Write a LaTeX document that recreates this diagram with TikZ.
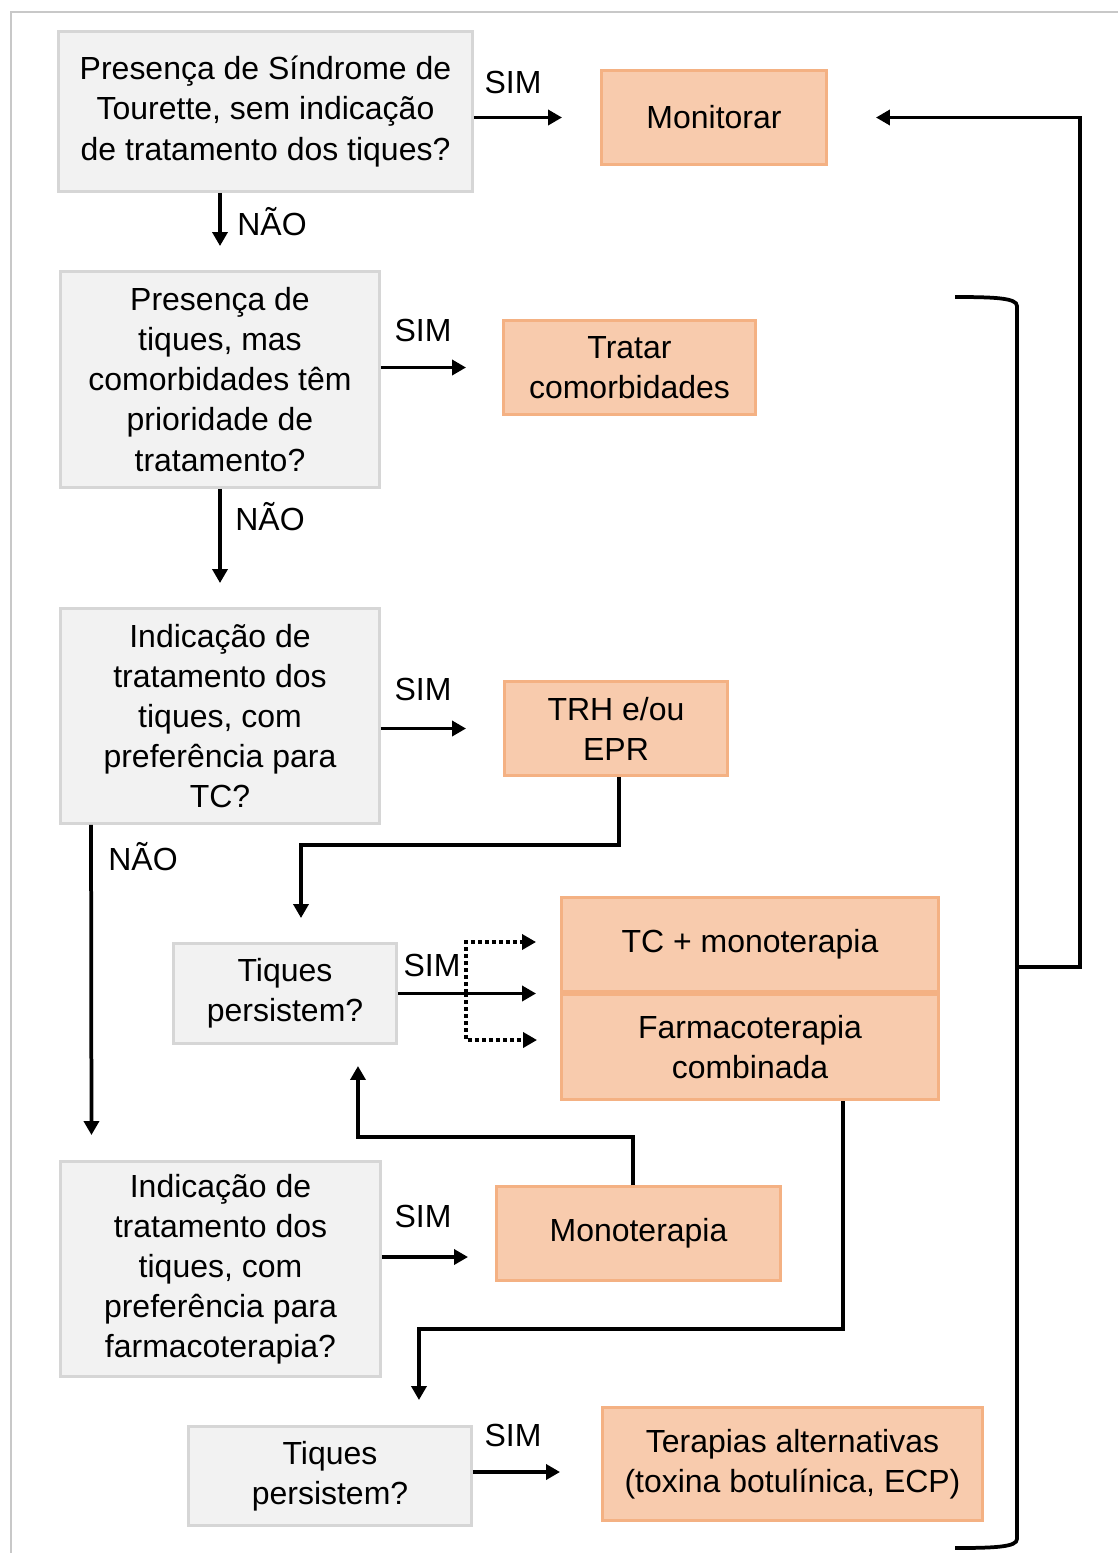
\documentclass[tikz,border=0pt]{standalone}
\usepackage{fontspec}
\setmainfont{Liberation Sans}
\usetikzlibrary{arrows.meta,positioning,calc}
\definecolor{qfill}{HTML}{F2F2F2}
\definecolor{qline}{HTML}{D6D6D6}
\definecolor{afill}{HTML}{F8CBAD}
\definecolor{aline}{HTML}{F4B183}
\definecolor{frm}{HTML}{C8C8C8}

\begin{document}
\begin{tikzpicture}[x=0.02cm, y=-0.02cm,
  >={Triangle[length=0.28cm,width=0.3cm]},
  font=\fontsize{18.2}{22.8}\selectfont,
  q/.style={rectangle,draw=qline,fill=qfill,line width=0.06cm,align=center,inner sep=0pt},
  act/.style={rectangle,draw=aline,fill=afill,line width=0.06cm,align=center,inner sep=0pt},
  e/.style={->,line width=0.075cm},
  dot/.style={e,dash pattern=on 0.08cm off 0.06cm},
  lbl/.style={inner sep=0pt}]

\useasboundingbox (0,0) rectangle (1118,1553);
\draw[frm,line width=0.04cm] (1118,12) -- (11,12) -- (11,1553);

% perguntas e acoes
\node[q,minimum width=8.28cm,minimum height=3.2cm] (q1) at (265.5,111.5)
  {Presença de Síndrome de\\Tourette, sem indicação\\de tratamento dos tiques?};
\node[act,minimum width=4.5cm,minimum height=1.88cm] (mon) at (714,117.5) {Monitorar};
\node[q,minimum width=6.38cm,minimum height=4.32cm] (q2) at (220,379.5)
  {Presença de\\tiques, mas\\comorbidades têm\\prioridade de\\tratamento?};
\node[act,minimum width=5.04cm,minimum height=1.88cm] (com) at (629.5,367.5) {Tratar\\comorbidades};
\node[q,minimum width=6.38cm,minimum height=4.3cm] (q3) at (220,716)
  {Indicação de\\tratamento dos\\tiques, com\\preferência para\\TC?};
\node[act,minimum width=4.46cm,minimum height=1.88cm] (trh) at (616,728.5) {TRH e/ou\\EPR};
\node[q,minimum width=4.46cm,minimum height=2cm] (p1) at (285,993.5) {Tiques\\persistem?};
\node[act,minimum width=7.54cm,minimum height=1.88cm] (tcm) at (750,944.5) {TC + monoterapia};
\node[act,minimum width=7.54cm,minimum height=2.1cm] (far) at (750,1047) {Farmacoterapia\\combinada};
\node[q,minimum width=6.4cm,minimum height=4.3cm] (q4) at (220.5,1269)
  {Indicação de\\tratamento dos\\tiques, com\\preferência para\\farmacoterapia?};
\node[act,minimum width=5.68cm,minimum height=1.88cm] (mono) at (638.5,1233.5) {Monoterapia};
\node[q,minimum width=5.66cm,minimum height=1.98cm] (p2) at (330,1476) {Tiques\\persistem?};
\node[act,minimum width=7.6cm,minimum height=2.26cm] (alt) at (792.5,1464)
  {Terapias alternativas\\(toxina botulínica, ECP)};

% setas
\draw[e,shorten >=0.76cm] (q1.east |- mon) -- (mon.west);
\draw[e,shorten >=0.48cm] (q2.north |- q1.south) -- (q2.north);
\draw[e,shorten >=0.72cm] (q2.east |- com) -- (com.west);
\draw[e,shorten >=0.48cm] (q2.south) -- (q3.north);
\draw[e,shorten >=0.74cm] (q3.east |- trh) -- (trh.west);
\draw[e,shorten >=0.5cm] ([xshift=-2.58cm]q3.south) -- ([xshift=-2.58cm]q4.north);
\draw[e,shorten >=0.48cm] ([xshift=0.06cm]trh.south) -- ++(0,68) -| ([xshift=0.32cm]p1.north);

\draw[e,shorten >=0.48cm] (p1.east) -- (p1.east -| tcm.west);
\coordinate (br) at (466,993);
\draw[dot,shorten >=0.48cm] (br) |- ([yshift=0.05cm]tcm.west);
\draw[dot,shorten >=0.46cm] (br) |- ([yshift=0.14cm]far.west);

\draw[e,shorten >=0.42cm] ([xshift=-0.11cm]mono.north) -- ++(0,-48) -| ([xshift=1.46cm]p1.south);
\coordinate (d) at ([yshift=0.24cm]q4.east);
\draw[e,shorten >=0.54cm] (d) -- (d -| mono.west);
\draw[e,shorten >=0.5cm] ([xshift=1.86cm]far.south) -- ++(0,228) -| ([xshift=1.78cm]p2.north);
\coordinate (p2t) at ([yshift=0.08cm]p2.east);
\draw[e,shorten >=0.82cm] (p2t) -- (p2t -| alt.west);

% chave da direita e retorno
\draw[line width=0.075cm] (955,297) .. controls (995,297) and (1017,298) .. (1017,306)
  -- (1017,1539) .. controls (1017,1547) and (995,1548) .. (955,1548);
\coordinate (brk) at (1017,967);
\draw[e,shorten >=0.96cm] (brk) -- ++(63,0) |- (mon.east);

% rotulos
\node[lbl] (s1) at (513,82) {SIM};
\node[lbl] (s2) at (423,330) {SIM};
\node[lbl] (s3) at (423,689) {SIM};
\node[lbl] (s4) at (432,965) {SIM};
\node[lbl] (s5) at (423,1216) {SIM};
\node[lbl] (s6) at (513,1435) {SIM};
\node[lbl] (n1) at (272,222) {NÃO};
\node[lbl] (n2) at (270,517) {NÃO};
\node[lbl] (n3) at (143,857) {NÃO};
\end{tikzpicture}
\end{document}
